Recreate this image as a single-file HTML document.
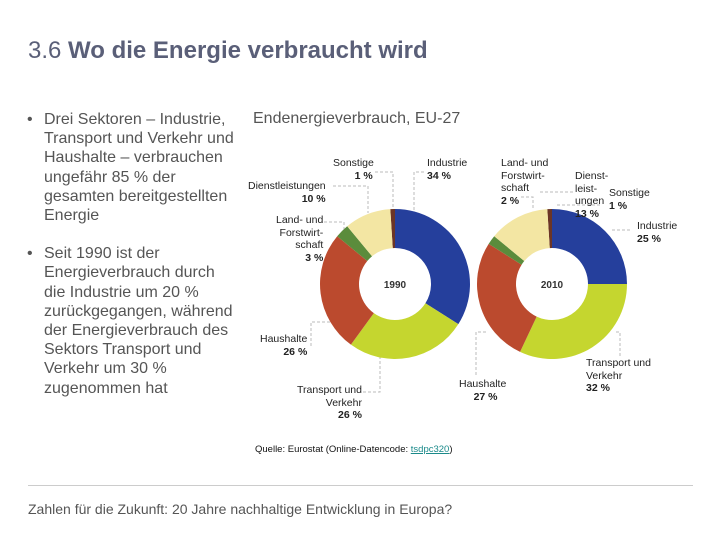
<!DOCTYPE html>
<html><head><meta charset="utf-8"><style>
body{margin:0;width:720px;height:540px;background:#fff;overflow:hidden;position:relative;font-family:"Liberation Sans",sans-serif}
.abs{position:absolute}
.t{position:absolute;font-size:10.5px;color:#222;line-height:12.5px;white-space:nowrap}
.t b{font-weight:bold}
.r{text-align:right}
</style></head><body>
<div class="abs" style="left:28px;top:37px;font-size:24px;color:#5a5f78;">3.6 <b>Wo die Energie verbraucht wird</b></div>
<div class="abs" style="left:24px;top:110px;font-size:16px;line-height:19.2px;color:#555;width:216px;">
<div style="padding-left:20px;position:relative"><span style="position:absolute;left:3px">•</span>Drei Sektoren – Industrie, Transport und Verkehr und Haushalte – verbrauchen ungefähr 85 % der gesamten bereitgestellten Energie</div>
<div style="padding-left:20px;position:relative;margin-top:19px"><span style="position:absolute;left:3px">•</span>Seit 1990 ist der Energieverbrauch durch die Industrie um 20 % zurückgegangen, während der Energieverbrauch des Sektors Transport und Verkehr um 30 % zugenommen hat</div>
</div>
<div class="abs" style="left:253px;top:110px;font-size:16px;color:#555;">Endenergieverbrauch, EU-27</div>
<svg class="abs" style="left:0;top:0" width="720" height="540" id="chart">
<g stroke="#bbb" stroke-dasharray="3,2" fill="none">
<path d="M375,172H393V212"/><path d="M424,172H414V212"/><path d="M333,186H368V213"/><path d="M324,222H344V232"/>
<path d="M311,346V322H330"/><path d="M363,392H380V355"/>
<path d="M521,197H533V208"/><path d="M540,192H574"/><path d="M557,205H600"/><path d="M612,230H630"/>
<path d="M616,332H620V356"/><path d="M476,375V332H486"/>
</g>
</svg>

<div class="t" style="left:333px;top:157px;text-align:center">Sonstige<br><b>&nbsp;&nbsp;&nbsp;&nbsp;&nbsp;&nbsp;&nbsp;1 %</b></div>
<div class="t" style="left:427px;top:157px">Industrie<br><b>34 %</b></div>
<div class="t r" style="left:248px;top:180px">Dienstleistungen<br><b>10 %</b></div>
<div class="t r" style="left:276px;top:214px">Land- und<br>Forstwirt-<br>schaft<br><b>3 %</b></div>
<div class="t r" style="left:260px;top:333px">Haushalte<br><b>&nbsp;&nbsp;&nbsp;26 %</b></div>
<div class="t r" style="left:297px;top:384px">Transport und<br>Verkehr<br><b>26 %</b></div>
<div class="t" style="left:501px;top:157px">Land- und<br>Forstwirt-<br>schaft<br><b>2 %</b></div>
<div class="t" style="left:575px;top:170px">Dienst-<br>leist-<br>ungen<br><b>13 %</b></div>
<div class="t" style="left:609px;top:187px">Sonstige<br><b>1 %</b></div>
<div class="t" style="left:637px;top:220px">Industrie<br><b>25 %</b></div>
<div class="t" style="left:586px;top:357px">Transport und<br>Verkehr<br><b>32 %</b></div>
<div class="t" style="left:459px;top:378px">Haushalte<br><b>&nbsp;&nbsp;&nbsp;&nbsp;&nbsp;27 %</b></div>

<div class="abs" style="left:255px;top:444px;font-size:9.5px;color:#111">Quelle: Eurostat (Online-Datencode: <span style="color:#1a8a8a;text-decoration:underline">tsdpc320</span>)</div>
<div class="abs" style="left:28px;top:485px;width:665px;height:1px;background:#ccc"></div>
<div class="abs" style="left:28px;top:501px;font-size:14px;color:#555">Zahlen für die Zukunft: 20 Jahre nachhaltige Entwicklung in Europa?</div>

<script>
const sectors = ["Sonstige","Industrie","Transport und Verkehr","Haushalte","Land- und Forstwirtschaft","Dienstleistungen"];
const values1990 = [1,34,26,26,3,10];
const values2010 = [1,25,32,27,2,13];
const years = ["1990","2010"];
const colors = ["#6b3526","#253f9c","#c5d62f","#bb4a2e","#5b8c3c","#f3e6a3"];
const svg = document.getElementById('chart');
const NS = "http://www.w3.org/2000/svg";
function pt(cx,cy,r,a){return [cx+r*Math.sin(a), cy-r*Math.cos(a)];}
function donut(vals, cx, cy, ro, ri, year){
  const tot = vals.reduce((a,b)=>a+b,0);
  let a = -vals[0]/tot*2*Math.PI;
  vals.forEach((v,i)=>{
    const a2 = a + v/tot*2*Math.PI;
    const [x1,y1]=pt(cx,cy,ro,a),[x2,y2]=pt(cx,cy,ro,a2),[x3,y3]=pt(cx,cy,ri,a2),[x4,y4]=pt(cx,cy,ri,a);
    const lg = (a2-a)>Math.PI?1:0;
    const p = document.createElementNS(NS,'path');
    p.setAttribute('d',`M${x1},${y1}A${ro},${ro} 0 ${lg} 1 ${x2},${y2}L${x3},${y3}A${ri},${ri} 0 ${lg} 0 ${x4},${y4}Z`);
    p.setAttribute('fill',colors[i]);
    
    
    svg.appendChild(p);
    a = a2;
  });
  const t = document.createElementNS(NS,'text');
  t.setAttribute('x',cx);t.setAttribute('y',cy+4);t.setAttribute('text-anchor','middle');
  t.setAttribute('font-size','10');t.setAttribute('font-weight','bold');t.setAttribute('fill','#333');
  t.setAttribute('font-family','Liberation Sans, sans-serif');
  t.textContent = year;
  
  
  svg.appendChild(t);
}
donut(values1990, 395, 284, 75, 36, years[0]);
donut(values2010, 552, 284, 75, 36, years[1]);
</script>
</body></html>
